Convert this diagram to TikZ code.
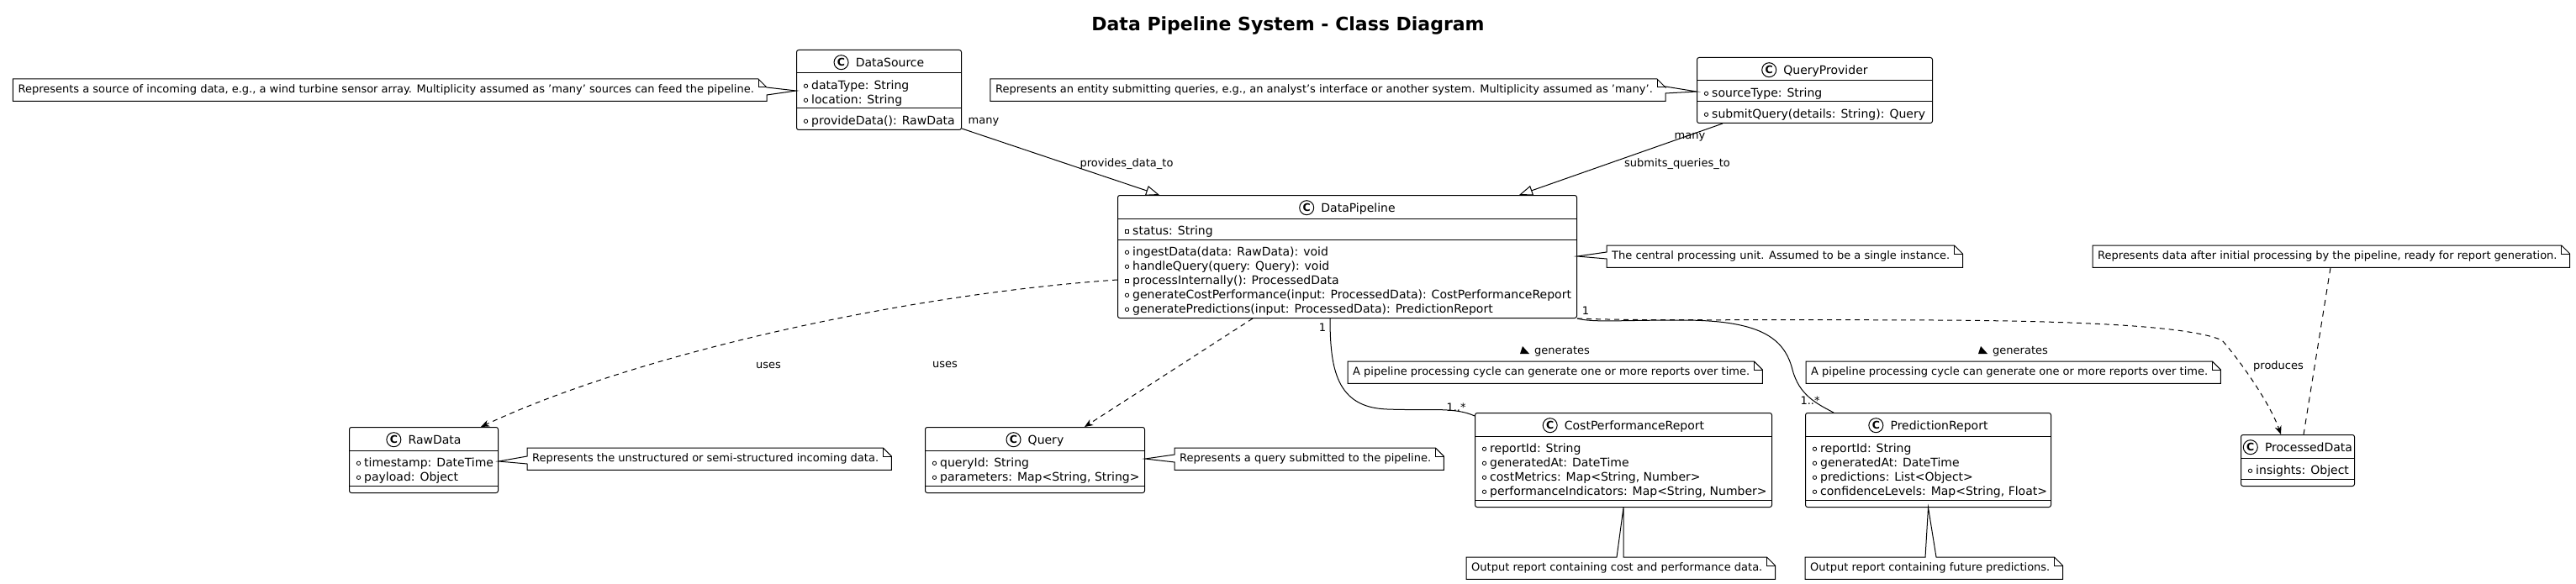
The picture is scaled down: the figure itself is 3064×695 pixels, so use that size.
\documentclass[tikz,border=0pt]{standalone}
\usepackage{fontspec}
\setmainfont{DejaVu Sans}
\usetikzlibrary{arrows.meta,calc}
\newcommand{\umlmark}[3]{\if#3s\draw[mk] ($(#1.north west)+(11.5,#2)$) +(-2.2pt,-2.2pt) rectangle +(2.2pt,2.2pt);\else\draw[mk] ($(#1.north west)+(11.5,#2)$) circle[radius=2.2pt];\fi}
\newcommand{\umlclass}[9]{%
  \pgfmathsetmacro{\hA}{8+17*#6}%
  \pgfmathsetmacro{\hM}{8+17*#7}%
  \pgfmathsetmacro{\hT}{28+\hA+\hM}%
  \pgfmathsetmacro{\yS}{28+\hA}%
  \pgfmathsetmacro{\yM}{\yS+7.6}%
  \node[classbox, minimum width=#4pt, minimum height=\hT pt] (#1) at (#2,#3) {};
  \draw[sepline] ($(#1.north west)+(0,28)$) -- ($(#1.north east)+(0,28)$);
  \draw[sepline] ($(#1.north west)+(0,\yS)$) -- ($(#1.north east)+(0,\yS)$);
  \node[classname] (#1-t) at ($(#1.north)+(13,20.3)$) {#5};
  \node[cmark] (#1-c) at ($(#1-t.base west)+(-17,-5.1)$) {C};
  \ifnum#6>0\relax
    \node[members] (#1-a) at ($(#1.north west)+(18,35.6)$) {#8};
    \foreach \m [count=\i from 0] in \amarks {\pgfmathsetmacro{\yy}{28+15.3+17*\i}\umlmark{#1}{\yy}{\m}}%
  \fi
  \ifnum#7>0\relax
    \node[members] (#1-m) at ($(#1.north west)+(18,\yM)$) {#9};
    \foreach \m [count=\i from 0] in \mmarks {\pgfmathsetmacro{\yy}{\yS+15.3+17*\i}\umlmark{#1}{\yy}{\m}}%
  \fi
}
\newcommand{\foldlines}[1]{\draw[nl] ($(#1.north east)+(-10,0)$) -- ($(#1.north east)+(-10,10)$) -- ($(#1.north east)+(0,10)$);}
\newcommand{\noteplain}[1]{\draw[nl] (#1.north west) -- ($(#1.north east)+(-10,0)$) -- ($(#1.north east)+(0,10)$) -- (#1.south east) -- (#1.south west) -- cycle; \foldlines{#1}}
\newcommand{\noteright}[4]{\draw[nl] (#1.north west) -- ($(#1.north east)+(-10,0)$) -- ($(#1.north east)+(0,10)$) -- ($(#1.north east)+(0,#2)$) -- #4 -- ($(#1.north east)+(0,#3)$) -- (#1.south east) -- (#1.south west) -- cycle; \foldlines{#1}}
\newcommand{\noteleft}[4]{\draw[nl] (#1.north west) -- ($(#1.north east)+(-10,0)$) -- ($(#1.north east)+(0,10)$) -- (#1.south east) -- (#1.south west) -- ($(#1.north west)+(0,#3)$) -- #4 -- ($(#1.north west)+(0,#2)$) -- cycle; \foldlines{#1}}
\newcommand{\notetop}[4]{\draw[nl] (#1.north west) -- ($(#1.north west)+(#2,0)$) -- #4 -- ($(#1.north west)+(#3,0)$) -- ($(#1.north east)+(-10,0)$) -- ($(#1.north east)+(0,10)$) -- (#1.south east) -- (#1.south west) -- cycle; \foldlines{#1}}
\newcommand{\npad}{\kern9pt}
\begin{document}
\begin{tikzpicture}[x=1pt,y=-1pt,
  classbox/.style={draw, fill=white, line width=1pt, rounded corners=2.5pt, inner sep=0pt, anchor=north west},
  sepline/.style={line width=1pt},
  classname/.style={anchor=base, inner sep=0pt, font=\fontsize{14}{17}\selectfont},
  cmark/.style={circle, draw, line width=1pt, minimum size=17pt, inner sep=0pt, font=\bfseries\fontsize{12.5}{13}\selectfont},
  mk/.style={line width=0.8pt},
  members/.style={anchor=north west, inner sep=0pt, align=left, font=\fontsize{14}{17}\selectfont},
  note/.style={inner xsep=6pt, inner ysep=0pt, minimum height=26pt, font=\fontsize{13}{15}\selectfont},
  nl/.style={line width=1pt, line join=miter},
  lbl/.style={inner sep=0pt, font=\fontsize{13}{15}\selectfont},
  assoc/.style={line width=1pt},
  dep/.style={line width=1pt, dash pattern=on 6pt off 5pt, -{Stealth[length=10pt,width=8pt,inset=3pt]}},
  ext/.style={line width=1pt, -{Triangle[open,length=16pt,width=12pt]}},
  notelink/.style={line width=1pt, dash pattern=on 7pt off 6pt}]
\fill[white] (0,0) rectangle (3064,695);
\useasboundingbox (0,0) rectangle (3064,695);

\node[font=\bfseries\fontsize{22}{26}\selectfont] (title) at (1532,31) {Data Pipeline System - Class Diagram};

\def\amarks{o,o}\def\mmarks{o}
\umlclass{ds}{947}{59}{196}{DataSource}{2}{1}{\strut dataType: String\\\strut location: String}{\strut provideData(): RawData}
\def\amarks{o}\def\mmarks{o}
\umlclass{qp}{2018}{68}{280}{QueryProvider}{1}{1}{\strut sourceType: String}{\strut submitQuery(details: String): Query}
\def\amarks{s}\def\mmarks{o,o,s,o,o}
\umlclass{dp}{1329}{232}{546}{DataPipeline}{1}{5}{\strut status: String}{\strut ingestData(data: RawData): void\\\strut handleQuery(query: Query): void\\\strut processInternally(): ProcessedData\\\strut generateCostPerformance(input: ProcessedData): CostPerformanceReport\\\strut generatePredictions(input: ProcessedData): PredictionReport}
\def\amarks{o,o}
\umlclass{rd}{415}{508}{177}{RawData}{2}{0}{\strut timestamp: DateTime\\\strut payload: Object}{}
\umlclass{q}{1100}{508}{261}{Query}{2}{0}{\strut queryId: String\\\strut parameters: Map<String, String>}{}
\def\amarks{o,o,o,o}
\umlclass{cpr}{1754}{491}{353}{CostPerformanceReport}{4}{0}{\strut reportId: String\\\strut generatedAt: DateTime\\\strut costMetrics: Map<String, Number>\\\strut performanceIndicators: Map<String, Number>}{}
\umlclass{pr}{2147}{491}{292}{PredictionReport}{4}{0}{\strut reportId: String\\\strut generatedAt: DateTime\\\strut predictions: List<Object>\\\strut confidenceLevels: Map<String, Float>}{}
\def\amarks{o}
\umlclass{pd}{2665}{517}{135}{ProcessedData}{1}{0}{\strut insights: Object}{}

% notes
\node[note, anchor=north east] (nds) at (912,94) {Represents a source of incoming data, e.g., a wind turbine sensor array. Multiplicity assumed as 'many' sources can feed the pipeline.\npad};
\node[note, anchor=north east] (nqp) at (1981,94) {Represents an entity submitting queries, e.g., an analyst's interface or another system. Multiplicity assumed as 'many'.\npad};
\node[note, anchor=north west] (ncen) at (1911,292) {The central processing unit. Assumed to be a single instance.\npad};
\node[note, anchor=north west] (nrd) at (627,533) {Represents the unstructured or semi-structured incoming data.\npad};
\node[note, anchor=north west] (nq) at (1397,533) {Represents a query submitted to the pipeline.\npad};
\node[note, anchor=north west] (ng1) at (1603,430) {A pipeline processing cycle can generate one or more reports over time.\npad};
\node[note, anchor=north west] (ng2) at (2148,430) {A pipeline processing cycle can generate one or more reports over time.\npad};
\node[note, anchor=north west] (npd) at (2489,292) {Represents data after initial processing by the pipeline, ready for report generation.\npad};
\node[note, anchor=north west] (ncpr) at (1744,663) {Output report containing cost and performance data.\npad};
\node[note, anchor=north west] (npr) at (2147,663) {Output report containing future predictions.\npad};

\noteright{nds}{10}{19}{($(ds.north west)+(0,49)$)}
\noteright{nqp}{9}{17}{($(qp.north west)+(0,41)$)}
\noteleft{ncen}{8}{16}{($(dp.north east)+(0,73)$)}
\noteleft{nrd}{10}{19}{($(rd.north east)+(0,41)$)}
\noteleft{nq}{8}{17}{($(q.north east)+(0,38)$)}
\noteplain{ng1}
\noteplain{ng2}
\noteplain{npd}
\notetop{ncpr}{179}{187}{(cpr.south)}
\notetop{npr}{143}{156}{(pr.south)}

% connectors
\draw[ext] ($(ds.south east)+(0,-2)$) -- ($(dp.north west)+(50,0)$);
\draw[ext] ($(qp.south west)+(31,0)$) -- ($(dp.north west)+(478,0)$);
\draw[dep] ($(dp.north west)+(0,101)$) .. controls (1080,350) and (760,420) .. ($(rd.north west)+(157,0)$);
\draw[dep] ($(dp.south west)+(161,0)$) -- ($(q.north west)+(190,0)$);
\draw[assoc] ($(dp.south west)+(253,0)$) .. controls (1582,440) and (1590,485) .. (1650,487) .. controls (1700,489) and (1730,484) .. ($(cpr.north west)+(0,4)$);
\draw[assoc] (dp.south east) .. controls (1895,384) and (1925,381) .. (2000,381) .. controls (2090,381) and (2122,400) .. (2132,440) .. controls (2140,470) and (2160,480) .. ($(pr.north west)+(34,0)$);
\draw[dep] (dp.south east) .. controls (1950,382) and (2100,380) .. (2300,381) .. controls (2500,382) and (2610,390) .. (2643,405) .. controls (2665,430) and (2700,480) .. ($(pd.north west)+(48,0)$);
\draw[notelink] ($(npd.south west)+(283,0)$) -- ($(pd.north west)+(75,0)$);

% labels
\node[lbl] (lmany1) at (1170,145) {many};
\node[lbl] (lprov) at (1340,195) {provides\_data\_to};
\node[lbl] (lmany2) at (2010,163) {many};
\node[lbl] (lsub) at (1995,195) {submits\_queries\_to};
\node[lbl] (luses1) at (914,435) {uses};
\node[lbl] (luses2) at (1124,434) {uses};
\node[lbl] (lone1) at (1573,390) {1};
\node[lbl] (lmul1) at (1732,485) {1..*};
\node[lbl, anchor=west] (lgen1) at (1825,418) {generates};
\node[lbl] (lone2) at (1886,370) {1};
\node[lbl] (lmul2) at (2153,477) {1..*};
\node[lbl, anchor=west] (lgen2) at (2370,418) {generates};
\node[lbl] (lprod) at (2710,436) {produces};
\fill ($(lgen1.west)+(-14,-6)$) -- ($(lgen1.west)+(-17,3)$) -- ($(lgen1.west)+(-6,3)$) -- cycle;
\fill ($(lgen2.west)+(-14,-6)$) -- ($(lgen2.west)+(-17,3)$) -- ($(lgen2.west)+(-6,3)$) -- cycle;
\end{tikzpicture}
\end{document}
